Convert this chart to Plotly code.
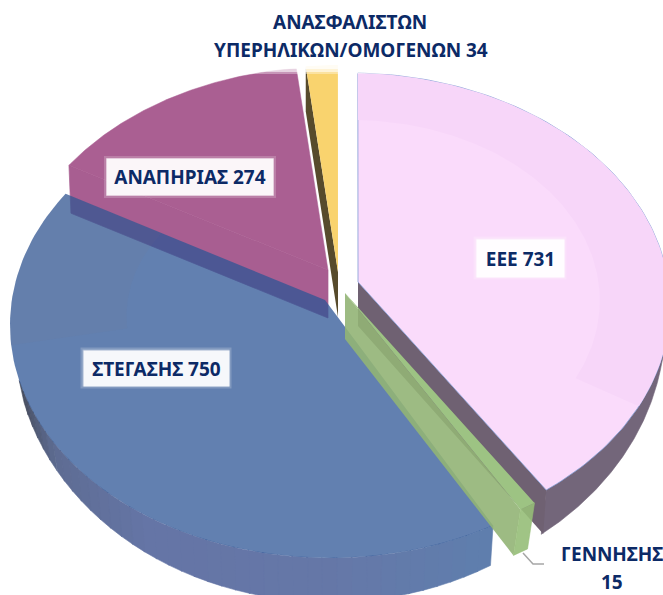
import numpy as np
import plotly.graph_objects as go

categories = ["ΕΕΕ", "ΓΕΝΝΗΣΗΣ", "ΣΤΕΓΑΣΗΣ", "ΑΝΑΠΗΡΙΑΣ", "ΑΝΑΣΦΑΛΙΣΤΩΝ ΥΠΕΡΗΛΙΚΩΝ/ΟΜΟΓΕΝΩΝ"]
values = [731, 15, 750, 274, 34]

RX, RY = 320, 233
FONT = "Noto Sans"
NAVY = "#0C2A66"
# per-slice view of the tilted, exploded disc (style only)
apex = [(358, 282), (345, 293), (325, 300), (328, 270), (338, 272)]
centre = [(350, 306), (355, 310), (330, 325), (330, 300), (338, 298)]
angle_offset = [1.4, 0.0, 0.5, 6.8, 1.0]
angle_gain = [0.965, 1.0, 1.035, 0.889, 0.85]
depth = [(-3, 44), (-7, 46), (-3, 40), (2, 48), (0, 45)]
outer_ellipse = {0: (345, 325, 320, 265), 2: (330, 340, 315, 262)}
face_col = ["#FADBFB", "#9DC383", "rgba(46,86,150,0.75)", "#AA5F92", "#F9D36E"]
wall_col = ["#6F6172", "rgba(146,180,118,0.9)", None, "#A85E91", "#574B2C"]
wall_edge = [1, 1, None, 0, 0]  # which radial edge shows its wall: 0 start, 1 end
blue_side_stops = [(149, (95, 127, 174)), (180, (102, 120, 168)), (215, (101, 117, 166)), (240, (94, 108, 146)), (256, (70, 76, 92))]

total = sum(values)
edges = np.concatenate([[0], np.cumsum(values)]) * 360.0 / total


def t_of(i, th):
    return angle_offset[i] + edges[i] + angle_gain[i] * (th - edges[i])


def arc(i, a, b, r=1.0, n=120):
    t = np.radians(np.linspace(a, b, n))
    x = centre[i][0] + RX * np.sin(t)
    y = centre[i][1] - RY * np.cos(t)
    return apex[i][0] + r * (x - apex[i][0]), apex[i][1] + r * (y - apex[i][1])


def outer_arc(i, a, b, n=120):
    t = np.radians(np.linspace(a, b, n))
    cx, cy, rx, ry = outer_ellipse[i]
    return cx + rx * np.sin(t), cy - ry * np.cos(t)


fig = go.Figure()


def poly(xs, ys, fill, line=None, lw=0):
    fig.add_trace(go.Scatter(
        x=list(xs) + [xs[0]], y=list(ys) + [ys[0]], mode="lines", fill="toself", fillcolor=fill,
        line=dict(color=line or "rgba(0,0,0,0)", width=lw), hoverinfo="skip", showlegend=False))


def face(i, line=None, lw=0):
    x, y = arc(i, t_of(i, edges[i]), t_of(i, edges[i + 1]))
    poly(np.r_[apex[i][0], x], np.r_[apex[i][1], y], face_col[i], line, lw)


def ring(i, a, b, r, colour):
    x0, y0 = arc(i, a, b)
    x1, y1 = arc(i, a, b, r)
    poly(np.r_[x0, x1[::-1]], np.r_[y0, y1[::-1]], colour)


def wall(i, line=None):
    th = edges[i + wall_edge[i]]
    x, y = arc(i, t_of(i, th), t_of(i, th), n=1)
    ax, ay = apex[i]
    dx, dy = depth[i]
    poly([x[0], ax, ax, x[0] + dx], [y[0], ay, ay + dy, y[0] + dy], wall_col[i], line, 0.7 if line else 0)


def side(i, a, b, colour):
    x, y = arc(i, a, b)
    if i in outer_ellipse:
        ox, oy = outer_arc(i, a, b)
    else:
        ox, oy = x + depth[i][0], y + depth[i][1]
    poly(np.r_[x, ox[::-1]], np.r_[y, oy[::-1]], colour, colour, 0.6)


# ΑΝΑΠΗΡΙΑΣ
wall(3, wall_col[3])
face(3, face_col[3], 0.5)
# ΣΤΕΓΑΣΗΣ
stop_t = [s[0] for s in blue_side_stops]
cuts = np.linspace(t_of(2, edges[2]), 256, 41)
for a, b in zip(cuts[:-1], cuts[1:]):
    m = (a + b) / 2
    rgb = [int(np.interp(m, stop_t, [s[1][k] for s in blue_side_stops])) for k in range(3)]
    side(2, a, b + 0.2, f"rgb({rgb[0]},{rgb[1]},{rgb[2]})")
face(2)
ring(2, 265, t_of(2, edges[3]), 0.63, "rgba(130,110,130,0.07)")
# ΑΝΑΣΦΑΛΙΣΤΩΝ
wall(4)
face(4)
# ΕΕΕ
side(0, 100, t_of(0, edges[1]), "#73667A")
wall(0)
face(0, "rgba(120,150,210,0.75)", 1)
ring(0, t_of(0, 0), 115.5, 0.775, "#F7D6F9")
# ΓΕΝΝΗΣΗΣ
wall(1)
side(1, t_of(1, edges[1]), t_of(1, edges[2]), "rgba(150,190,120,0.9)")
face(1)

# fade at the top of the slices, under the title
for y0, y1, a in [(58, 69, 0.92), (69, 72, 0.72), (72, 74, 0.35)]:
    fig.add_shape(type="rect", x0=225, x1=440, y0=y0, y1=y1, fillcolor=f"rgba(255,255,255,{a})", line_width=0, layer="above")

# leader line for the small slice
fig.add_trace(go.Scatter(x=[523, 533, 544], y=[553, 564, 564], mode="lines", line=dict(color="#A6A6A6", width=1.5),
                         hoverinfo="skip", showlegend=False))

lab = [f"{c} {v}" for c, v in zip(categories, values)]


def note(text, x, y, size=19, box=None):
    kw = {}
    if box:
        kw = dict(bgcolor="rgba(255,255,255,0.9)", width=box[0], height=box[1], align="center", valign="middle")
        for grow, alpha in [(4, 0.2), (2, 0.3)]:
            fig.add_shape(type="rect", x0=x - box[0] / 2 - grow, x1=x + box[0] / 2 + grow, y0=y - box[1] / 2 - grow,
                          y1=y + box[1] / 2 + grow, fillcolor=f"rgba(255,255,255,{alpha})", line_width=0, layer="above")
    fig.add_annotation(x=x, y=y, text=f"<b>{text}</b>", showarrow=False, xanchor="center", yanchor="middle",
                       font=dict(family=FONT, size=size, color=NAVY), **kw)


note(lab[0], 520, 258, box=(85, 35))
note(lab[2], 156, 368, box=(143, 33))
note(lab[3], 190, 177, box=(164, 34))
top1, top2 = categories[4].split(" ")
note(top1, 350, 22)
note(f"{top2} {values[4]}", 351, 50)
note(categories[1], 612, 554)
note(str(values[1]), 612, 582)

fig.update_layout(
    width=663, height=595, autosize=False, margin=dict(l=0, r=0, t=0, b=0),
    paper_bgcolor="white", plot_bgcolor="white", showlegend=False,
    xaxis=dict(range=[0, 663], visible=False, fixedrange=True),
    yaxis=dict(range=[595, 0], visible=False, fixedrange=True),
)
fig.write_html("out.html", config=dict(displayModeBar=False),
               post_script="document.body.style.margin='0';")
